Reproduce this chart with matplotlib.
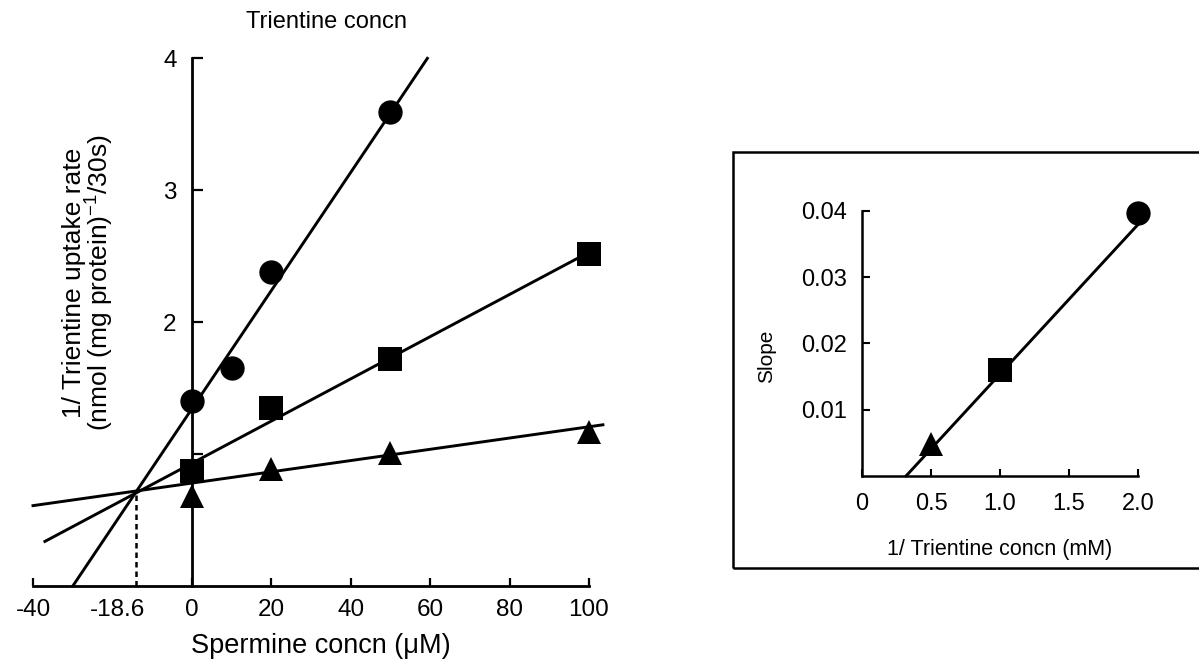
import matplotlib
matplotlib.use("Agg")
import matplotlib.pyplot as plt
from matplotlib.patches import Rectangle
import numpy as np

plt.rcParams['font.family'] = ['Liberation Sans', 'DejaVu Sans']
plt.rcParams['mathtext.default'] = 'regular'

# ---- main plot data ----
circle_x = [0, 10, 20, 50]
circle_y = [1.40, 1.65, 2.38, 3.59]
square_x = [0, 20, 50, 100]
square_y = [0.87, 1.35, 1.72, 2.52]
triangle_x = [0, 20, 50, 100]
triangle_y = [0.68, 0.89, 1.01, 1.17]

# fitted lines: (slope, intercept, x_start, x_end)
circle_fit = (0.0448, 1.343, -29.9, 59.3)
square_fit = (0.0160, 0.93, -37.0, 100.0)
triangle_fit = (0.00427, 0.78, -40.0, 103.5)
intersect_x = -14.0
intersect_label = "-18.6"

x_ticks = [-40, 0, 20, 40, 60, 80, 100]
y_ticks = [1, 2, 3, 4]
y_ticklabels = ['', '2', '3', '4']

# ---- inset data ----
inv_conc = [0.5, 1.0, 2.0]
slope_vals = [0.0049, 0.0160, 0.0396]
inset_fit = (0.02256, -0.0072, 0.32, 2.0)
inset_xticks = [0, 0.5, 1.0, 1.5, 2.0]
inset_xticklabels = ['0', '0.5', '1.0', '1.5', '2.0']
inset_yticks = [0.01, 0.02, 0.03, 0.04]
inset_yticklabels = ['0.01', '0.02', '0.03', '0.04']

W, H = 1199, 666
fig = plt.figure(figsize=(W / 100, H / 100), dpi=100)

def fpos(x0, y0, x1, y1):
    return [x0 / W, 1 - y1 / H, (x1 - x0) / W, (y1 - y0) / H]

ax = fig.add_axes(fpos(33, 58.3, 589, 586))
ax.set_xlim(-40, 100)
ax.set_ylim(0, 4)
for s in ['top', 'right']:
    ax.spines[s].set_visible(False)
ax.spines['left'].set_position(('data', 0))
ax.spines['left'].set_linewidth(2.0)
ax.spines['bottom'].set_linewidth(2.0)

lw = 2.1
for (m, b, xa, xb) in [circle_fit, square_fit, triangle_fit]:
    xs = np.array([xa, xb])
    ax.plot(xs, m * xs + b, color='black', lw=lw, clip_on=False, zorder=2)

ms = 17.5
ax.plot(circle_x, circle_y, 'o', color='black', ms=ms, mew=0, clip_on=False, zorder=3)
ax.plot(square_x, square_y, 's', color='black', ms=ms - 0.5, mew=0, clip_on=False, zorder=3)
ax.plot(triangle_x, triangle_y, '^', color='black', ms=ms, mew=0, clip_on=False, zorder=3)

iy = triangle_fit[0] * intersect_x + triangle_fit[1]
ax.plot([intersect_x, intersect_x], [0, iy], color='black', lw=1.8, ls=(0, (2.2, 1.6)), zorder=2)

tick_fs = 17.5
ax.set_xticks(x_ticks)
ax.set_xticklabels([str(t) for t in x_ticks])
ax.set_xticks([-18.6], [intersect_label], minor=True)
ax.set_yticks(y_ticks)
ax.set_yticklabels(y_ticklabels)
ax.tick_params(axis='x', which='major', direction='in', length=6, width=1.6, labelsize=tick_fs, pad=9)
ax.tick_params(axis='x', which='minor', length=0, labelsize=tick_fs, pad=9)
ax.tick_params(axis='y', direction='in', length=8, width=1.6, labelsize=tick_fs, pad=11)

fig.text(321 / W, 1 - 646 / H, 'Spermine concn (\u03bcM)', ha='center', va='center', fontsize=19.5)
fig.text(326 / W, 1 - 22 / H, 'Trientine concn', ha='center', va='center', fontsize=17)
fig.text(89 / W, 1 - 283 / H,
         '1/ Trientine uptake rate\n(nmol (mg protein)$^{-1}$/30s)',
         ha='center', va='center', rotation=90, fontsize=19, linespacing=0.92)

# ---- inset box ----
fig.patches.append(Rectangle((733 / W, 1 - 568 / H), (1215 - 733) / W, (568 - 152) / H,
                             transform=fig.transFigure, fill=False, lw=1.8,
                             edgecolor='black', clip_on=False))

ax2 = fig.add_axes(fpos(862, 210.7, 1138, 476))
ax2.set_xlim(0, 2.0)
ax2.set_ylim(0, 0.04)
for s in ['top', 'right']:
    ax2.spines[s].set_visible(False)
ax2.spines['left'].set_linewidth(1.8)
ax2.spines['bottom'].set_linewidth(1.8)
m, b, xa, xb = inset_fit
xs = np.array([xa, xb])
ax2.plot(xs, m * xs + b, color='black', lw=lw, clip_on=False, zorder=2)
ax2.plot(inv_conc[0], slope_vals[0], '^', color='black', ms=ms, mew=0, clip_on=False, zorder=3)
ax2.plot(inv_conc[1], slope_vals[1], 's', color='black', ms=ms - 0.5, mew=0, clip_on=False, zorder=3)
ax2.plot(inv_conc[2], slope_vals[2], 'o', color='black', ms=ms, mew=0, clip_on=False, zorder=3)
ax2.set_xticks(inset_xticks)
ax2.set_xticklabels(inset_xticklabels)
ax2.set_yticks(inset_yticks)
ax2.set_yticklabels(inset_yticklabels)
ax2.tick_params(axis='x', direction='in', length=5, width=1.5, labelsize=17, pad=12)
ax2.tick_params(axis='y', direction='in', length=6, width=1.5, labelsize=17, pad=11)
ax2.set_ylabel('Slope', fontsize=15)
ax2.yaxis.set_label_coords((776 - 862) / 276, 0.45)
fig.text(1000 / W, 1 - 549 / H, '1/ Trientine concn (mM)', ha='center', va='center', fontsize=15.5)

fig.savefig('out.png', dpi=100)
